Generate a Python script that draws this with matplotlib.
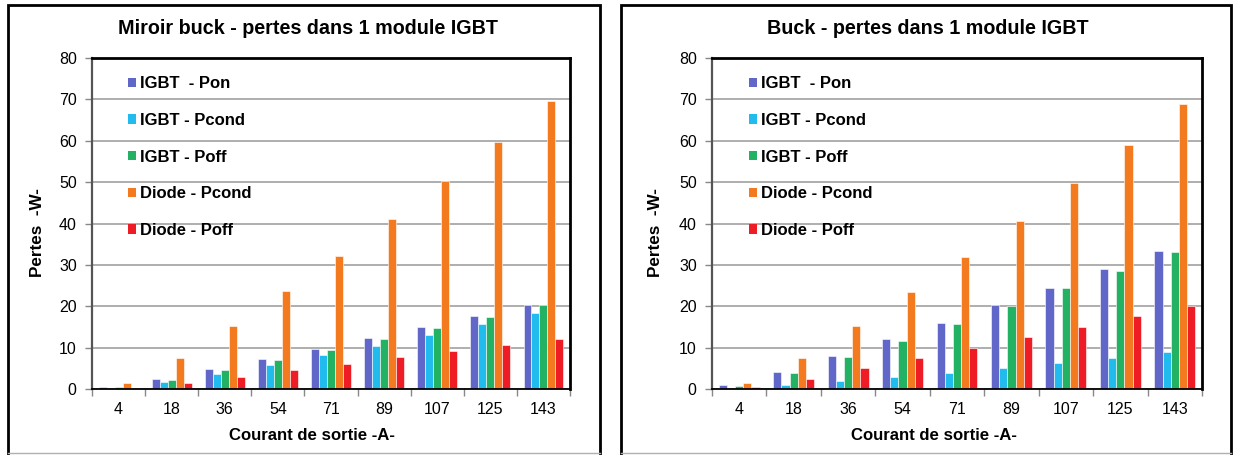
import numpy as np
import matplotlib.pyplot as plt
from matplotlib.patches import Rectangle
from matplotlib.lines import Line2D

plt.rcParams['font.family'] = ['Liberation Sans', 'DejaVu Sans']

# Output current categories (A)
courant = ['4', '18', '36', '54', '71', '89', '107', '125', '143']
series_names = ['IGBT  - Pon', 'IGBT - Pcond', 'IGBT - Poff', 'Diode - Pcond', 'Diode - Poff']
colors = ['#6167c9', '#22bbee', '#23b264', '#f47a20', '#ee1c25']

# Miroir buck losses (W)
mb_igbt_pon = [0.5, 2.4, 4.8, 7.3, 9.7, 12.3, 15.0, 17.6, 20.4]
mb_igbt_pcond = [0.3, 1.8, 3.7, 5.8, 8.1, 10.4, 13.0, 15.6, 18.3]
mb_igbt_poff = [0.4, 2.2, 4.7, 7.1, 9.5, 12.1, 14.8, 17.5, 20.3]
mb_diode_pcond = [1.4, 7.5, 15.3, 23.6, 32.1, 41.0, 50.2, 59.8, 69.6]
mb_diode_poff = [0.3, 1.45, 3.0, 4.5, 6.0, 7.7, 9.1, 10.7, 12.2]

# Buck losses (W)
b_igbt_pon = [1.0, 4.0, 8.0, 12.0, 16.0, 20.3, 24.5, 28.9, 33.4]
b_igbt_pcond = [0.1, 0.9, 1.9, 2.9, 3.95, 5.1, 6.4, 7.6, 9.0]
b_igbt_poff = [0.7, 3.8, 7.7, 11.6, 15.7, 20.0, 24.3, 28.6, 33.1]
b_diode_pcond = [1.45, 7.5, 15.2, 23.5, 31.9, 40.6, 49.7, 59.0, 68.8]
b_diode_poff = [0.5, 2.4, 5.1, 7.5, 10.0, 12.6, 15.1, 17.7, 20.1]

W, H = 1233, 455
fig = plt.figure(figsize=(W / 100, H / 100), dpi=100)


def px(x0, y0, x1, y1):
    # pixel box (top-left origin) -> figure fraction rect
    return [x0 / W, 1 - y1 / H, (x1 - x0) / W, (y1 - y0) / H]


def draw_panel(rect, title, data, frame_x, title_x, ylabel_x, xlabel_x):
    ax = fig.add_axes(px(*rect))
    x = np.arange(len(courant))
    bw = 0.15
    for i, (vals, name, c) in enumerate(zip(data, series_names, colors)):
        ax.bar(x + (i - 2) * bw, vals, bw, color=c, label=name,
               edgecolor='white', linewidth=0.4, zorder=5)
    ax.set_xlim(-0.5, len(courant) - 0.5)
    ax.set_ylim(0, 80)
    ax.set_yticks(np.arange(0, 81, 10))
    ax.yaxis.grid(True, color='#a8a8a8', linewidth=1.3, zorder=0)
    ax.tick_params(axis='y', direction='out', length=5, width=1, color='#888888',
                   labelsize=11.5, pad=6)
    # category boundaries as ticks, labels at centres
    ax.set_xticks(np.arange(-0.5, len(courant), 1.0))
    ax.set_xticklabels([])
    ax.set_xticks(x, minor=True)
    ax.set_xticklabels(courant, minor=True, fontsize=11.5)
    ax.tick_params(axis='x', which='major', direction='out', length=5, width=1, color='#888888')
    ax.tick_params(axis='x', which='minor', length=0, pad=9)
    for s in ['top', 'right']:
        ax.spines[s].set_color('black')
        ax.spines[s].set_linewidth(2.0)
    ax.spines['bottom'].set_color('black')
    ax.spines['bottom'].set_linewidth(1.3)
    ax.spines['bottom'].set_zorder(6)
    ax.spines['left'].set_color('#555555')
    ax.spines['left'].set_linewidth(1.6)

    leg = ax.legend(loc='upper left', bbox_to_anchor=(0.075, 0.945), frameon=False,
                    prop={'weight': 'bold', 'size': 12}, handlelength=0.5,
                    handleheight=0.5, handletextpad=0.25, labelspacing=1.3,
                    borderpad=0, borderaxespad=0)
    for h in leg.legend_handles:
        h.set_edgecolor('none')

    fig.text(title_x / W, 1 - 28 / H, title, ha='center', va='center',
             fontsize=14.2, fontweight='bold')
    fig.text(ylabel_x / W, 1 - 233 / H, 'Pertes  -W-', rotation=90, ha='center',
             va='center', fontsize=12.3, fontweight='bold')
    fig.text(xlabel_x / W, 1 - 435 / H, 'Courant de sortie -A-',
             ha='center', va='center', fontsize=12.1, fontweight='bold')

    fx0, fx1 = frame_x
    fig.add_artist(Rectangle((fx0 / W, -0.05), (fx1 - fx0) / W, 1.05 - 5 / H,
                             transform=fig.transFigure, fill=False,
                             edgecolor='black', linewidth=2.0))
    fig.add_artist(Line2D([fx0 / W, fx1 / W], [1 - 453 / H, 1 - 453 / H],
                          transform=fig.transFigure, color='#b0b0b0', linewidth=1))
    return ax


draw_panel((92, 58, 570, 389), 'Miroir buck - pertes dans 1 module IGBT',
           [mb_igbt_pon, mb_igbt_pcond, mb_igbt_poff, mb_diode_pcond, mb_diode_poff],
           (8, 600), 308, 37, 312)
draw_panel((712, 58, 1202, 389), 'Buck - pertes dans 1 module IGBT',
           [b_igbt_pon, b_igbt_pcond, b_igbt_poff, b_diode_pcond, b_diode_poff],
           (621, 1231), 928, 656, 934)

fig.savefig('out.png', dpi=100, facecolor='white')
